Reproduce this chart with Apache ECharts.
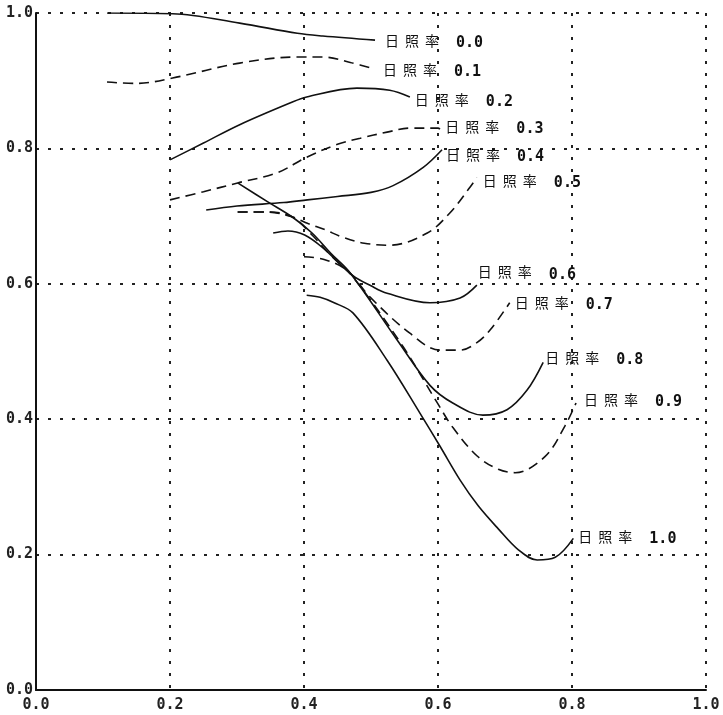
<!DOCTYPE html>
<html><head><meta charset="utf-8">
<script src="https://cdn.jsdelivr.net/npm/echarts@6/dist/echarts.min.js"></script>
<style>html,body{margin:0;padding:0;background:#fff}#c{width:723px;height:715px}</style>
</head><body><div id="c"></div>
<script>
// sunshine-rate labels
const rateLabels = ['0.0','0.1','0.2','0.3','0.4','0.5','0.6','0.7','0.8','0.9','1.0'];
const axisTicks = [0.0, 0.2, 0.4, 0.6, 0.8, 1.0];

// curves: [x, y]
const c00 = [[0.106,1.0],[0.204,0.999],[0.304,0.985],[0.39,0.97],[0.428,0.966],[0.506,0.96]];
const c01 = [[0.106,0.898],[0.15,0.896],[0.204,0.904],[0.304,0.926],[0.39,0.935],[0.428,0.935],[0.469,0.927],[0.506,0.917]];
const c02 = [[0.2,0.783],[0.25,0.808],[0.304,0.835],[0.379,0.867],[0.404,0.876],[0.479,0.889],[0.528,0.886],[0.558,0.876]];
const c03 = [[0.2,0.724],[0.25,0.736],[0.301,0.749],[0.36,0.764],[0.404,0.787],[0.45,0.806],[0.484,0.815],[0.524,0.824],[0.558,0.83],[0.6,0.83],[0.605,0.826]];
const c04 = [[0.254,0.709],[0.3,0.715],[0.37,0.72],[0.405,0.724],[0.45,0.729],[0.5,0.735],[0.533,0.745],[0.578,0.772],[0.606,0.798]];
const c05 = [[0.301,0.706],[0.346,0.706],[0.382,0.699],[0.406,0.689],[0.431,0.68],[0.457,0.669],[0.49,0.66],[0.528,0.657],[0.584,0.675],[0.618,0.705],[0.648,0.743],[0.658,0.757]];
const c06 = [[0.354,0.675],[0.376,0.678],[0.401,0.672],[0.427,0.654],[0.473,0.612],[0.5,0.597],[0.524,0.586],[0.588,0.572],[0.633,0.579],[0.658,0.598]];
const c07 = [[0.4,0.64],[0.43,0.636],[0.464,0.62],[0.499,0.58],[0.558,0.527],[0.603,0.502],[0.633,0.502],[0.658,0.513],[0.678,0.532],[0.707,0.572]];
const c08 = [[0.301,0.749],[0.346,0.721],[0.382,0.699],[0.412,0.675],[0.44,0.645],[0.469,0.616],[0.539,0.517],[0.588,0.45],[0.622,0.424],[0.667,0.406],[0.703,0.414],[0.733,0.443],[0.757,0.484]];
const c09 = [[0.301,0.706],[0.346,0.706],[0.382,0.699],[0.412,0.672],[0.44,0.642],[0.473,0.61],[0.548,0.507],[0.599,0.424],[0.622,0.388],[0.658,0.346],[0.69,0.326],[0.715,0.321],[0.76,0.345],[0.79,0.391],[0.806,0.424]];
const c10 = [[0.404,0.583],[0.424,0.58],[0.445,0.572],[0.473,0.557],[0.524,0.487],[0.573,0.409],[0.603,0.36],[0.633,0.31],[0.66,0.272],[0.69,0.238],[0.72,0.207],[0.748,0.192],[0.775,0.196],[0.802,0.224]];

const curves = [c00,c01,c02,c03,c04,c05,c06,c07,c08,c09,c10];
// label offsets (styling)
const labelOffsets = [[10,1],[8,0],[5,3],[4,-4],[4,5],[6,3],[1,-13],[5,0],[2,-5],[8,-3],[5,-2]];

const chart = echarts.init(document.getElementById('c'), null, {renderer:'canvas'});
const series = curves.map((d, i) => ({
  name: '日照率 ' + rateLabels[i],
  type: 'line',
  data: d,
  showSymbol: false,
  smooth: 0.35,
  lineStyle: {color:'#111', width: 1.6, type: (i % 2 === 1) ? [10, 6] : 'solid'},
  endLabel: {
    show: true,
    distance: 0,
    offset: labelOffsets[i],
    formatter: '{a|日}{a|照}{a|率}{b|' + rateLabels[i] + '}',
    rich: {
      a: {fontFamily:'Noto Sans CJK JP', fontSize: 14, lineHeight: 18, color:'#111', padding:[0,6,0,0]},
      b: {fontFamily:'DejaVu Sans Mono', fontSize: 15, lineHeight: 18, fontWeight:'bold', color:'#111', padding:[5,0,0,11]}
    }
  },
  emphasis: {disabled: true},
  z: 3
}));

const axisLabelStyle = {
  color:'#222', fontFamily:'DejaVu Sans Mono', fontWeight:'bold', fontSize:15,
  formatter: v => axisTicks.includes(+v.toFixed(1)) ? v.toFixed(1) : ''
};
const gridLine = {show:true, lineStyle:{color:'#222', width:2, type:[3,9]}};

chart.setOption({
  animation: false,
  backgroundColor: '#fff',
  grid: {left: 36, right: 17, top: 13, bottom: 25, containLabel: false},
  xAxis: {
    type:'value', min:0, max:1, interval:0.2,
    axisLine:{show:true, onZero:false, lineStyle:{color:'#111', width:2}},
    axisTick:{show:false},
    axisLabel: Object.assign({margin:8}, axisLabelStyle),
    splitLine: gridLine
  },
  yAxis: {
    type:'value', min:0, max:1, interval:0.2,
    axisLine:{show:true, onZero:false, lineStyle:{color:'#111', width:2}},
    axisTick:{show:false},
    axisLabel: Object.assign({margin:3}, axisLabelStyle),
    splitLine: gridLine
  },
  series: series
});
</script>
</body></html>
